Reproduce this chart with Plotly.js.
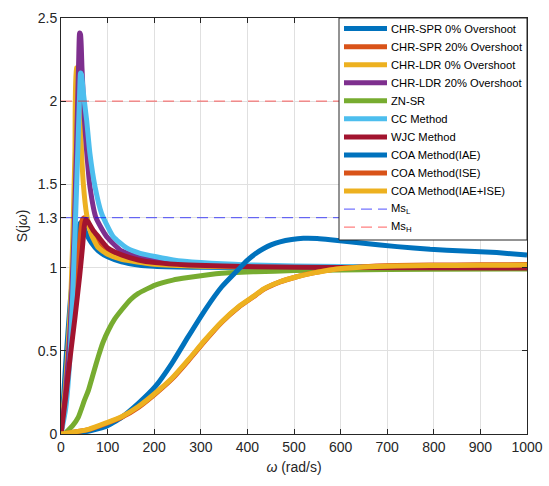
<!DOCTYPE html>
<html>
<head>
<meta charset="utf-8">
<script src="https://cdn.plot.ly/plotly-3.0.1.min.js"></script>
<style>html,body{margin:0;padding:0;background:#fff;}#chart{width:549px;height:486px;}</style>
</head>
<body>
<div id="chart"></div>
<script>
// ---- data ----
const seriesNames = [
  "CHR-SPR 0% Overshoot", "CHR-SPR 20% Overshoot", "CHR-LDR 0% Overshoot",
  "CHR-LDR 20% Overshoot", "ZN-SR", "CC Method", "WJC Method",
  "COA Method(IAE)", "COA Method(ISE)", "COA Method(IAE+ISE)"
];
const seriesColors = ["#0072BD","#D95319","#EDB120","#7E2F8E","#77AC30","#4DBEEE","#A2142F","#0072BD","#D95319","#EDB120"];

const chrSpr0_w = [0, 5, 10, 20, 30, 38, 42, 46, 55, 65, 80, 100, 130, 166, 200, 300, 500, 1000];
const chrSpr0_S = [0, 0.2, 0.42, 0.8, 1.08, 1.24, 1.27, 1.26, 1.2, 1.15, 1.1, 1.065, 1.035, 1.016, 1.008, 1.002, 1.0, 1.0];

const chrSpr20_w = [0, 10, 20, 30, 40, 46, 50, 55, 65, 80, 100, 130, 166, 200, 273, 400, 600, 1000];
const chrSpr20_S = [0, 0.25, 0.55, 0.85, 1.15, 1.29, 1.3, 1.28, 1.22, 1.16, 1.11, 1.07, 1.045, 1.03, 1.016, 1.006, 1.002, 1.0];

const chrLdr0_w = [0, 10, 20, 25, 30, 33, 36, 40, 44, 48, 55, 65, 80, 100, 130, 200, 300, 500, 1000];
const chrLdr0_S = [0, 0.3, 0.75, 1.15, 1.7, 2.2, 2.2, 2.0, 1.7, 1.5, 1.32, 1.2, 1.12, 1.08, 1.05, 1.02, 1.008, 1.002, 1.0];

const chrLdr20_w = [0, 10, 20, 28, 34, 38, 40, 42, 45, 50, 55, 62, 75, 98, 130, 170, 200, 300, 500, 1000];
const chrLdr20_S = [0, 0.25, 0.65, 1.2, 1.8, 2.25, 2.41, 2.4, 2.2, 1.9, 1.7, 1.49, 1.3, 1.186, 1.1, 1.06, 1.045, 1.02, 1.006, 1.0];

const znSr_w = [0, 8, 16, 25, 37, 50, 59, 70, 80, 90, 102, 115, 130, 150, 166, 202, 240, 273, 345, 417, 500, 600, 800, 1000];
const znSr_S = [0, 0.003, 0.024, 0.05, 0.1, 0.2, 0.264, 0.37, 0.465, 0.55, 0.625, 0.69, 0.745, 0.81, 0.845, 0.895, 0.925, 0.94, 0.966, 0.975, 0.982, 0.986, 0.99, 0.992];

const cc_w = [0, 10, 20, 30, 36, 40, 42, 44, 48, 55, 62, 73, 87, 112, 140, 170, 241, 300, 400, 600, 1000];
const cc_S = [0, 0.15, 0.5, 1.2, 1.7, 2.05, 2.17, 2.16, 2.05, 1.887, 1.687, 1.486, 1.326, 1.186, 1.12, 1.086, 1.046, 1.03, 1.016, 1.006, 1.0];

const wjc_w = [0, 10, 20, 30, 40, 46, 50, 53, 58, 70, 80, 101, 130, 166, 202, 273, 417, 600, 1000];
const wjc_S = [0, 0.22, 0.47, 0.7, 0.95, 1.12, 1.25, 1.29, 1.275, 1.22, 1.186, 1.116, 1.076, 1.046, 1.03, 1.016, 1.005, 1.0, 0.997];

const coaIae_w = [0, 50, 95, 130, 166, 202, 238, 273, 309, 345, 381, 399, 417, 434, 452, 470, 495, 520, 550, 578, 649, 721, 792, 864, 935, 1000];
const coaIae_S = [0, 0.012, 0.044, 0.1, 0.184, 0.284, 0.425, 0.585, 0.745, 0.885, 0.99, 1.042, 1.083, 1.113, 1.138, 1.155, 1.169, 1.176, 1.175, 1.168, 1.146, 1.126, 1.11, 1.1, 1.09, 1.076];

const coaIse_w = [0, 59, 100, 130, 166, 202, 238, 273, 309, 345, 381, 417, 434, 470, 506, 542, 578, 649, 720, 792, 900, 1000];
const coaIse_S = [0, 0.026, 0.066, 0.1, 0.16, 0.24, 0.33, 0.44, 0.56, 0.672, 0.762, 0.833, 0.868, 0.914, 0.945, 0.968, 0.987, 1.005, 1.012, 1.015, 1.017, 1.018];

const coaIaeIse_w = [0, 59, 100, 130, 166, 202, 238, 273, 309, 345, 381, 417, 434, 470, 506, 542, 578, 649, 720, 792, 900, 1000];
const coaIaeIse_S = [0, 0.028, 0.07, 0.104, 0.165, 0.245, 0.335, 0.445, 0.565, 0.675, 0.765, 0.835, 0.87, 0.915, 0.945, 0.968, 0.986, 1.003, 1.01, 1.012, 1.014, 1.015];

const msLevels = [1.3, 2.0];
const msNames = ["Ms<sub>L</sub>", "Ms<sub>H</sub>"];
const msColors = ["rgba(0,0,255,0.55)", "rgba(255,0,0,0.5)"];
const wRange = [0, 1000];

const xTicks = [0, 100, 200, 300, 400, 500, 600, 700, 800, 900, 1000];
const yTicks = [0, 0.5, 1, 1.3, 1.5, 2, 2.5];
const yTickText = ["0", "0.5", "1", "1.3", "1.5", "2", "2.5"];

// ---- traces ----
const xs = [chrSpr0_w, chrSpr20_w, chrLdr0_w, chrLdr20_w, znSr_w, cc_w, wjc_w, coaIae_w, coaIse_w, coaIaeIse_w];
const ys = [chrSpr0_S, chrSpr20_S, chrLdr0_S, chrLdr20_S, znSr_S, cc_S, wjc_S, coaIae_S, coaIse_S, coaIaeIse_S];

const traces = seriesNames.map((n, i) => ({
  type: "scatter", mode: "lines", name: n, x: xs[i], y: ys[i],
  line: {color: seriesColors[i], width: 5, shape: "spline", smoothing: 0.5},
  hoverinfo: "skip"
}));
msLevels.forEach((lv, i) => {
  traces.push({
    type: "scatter", mode: "lines", name: msNames[i],
    x: wRange, y: [lv, lv],
    line: {color: msColors[i], width: 1.3, dash: "11px,6px"},
    hoverinfo: "skip"
  });
});

// ---- compact legend box (MATLAB-style), built from the same names/colours ----
const W = 549, H = 486, mL = 61, mR = 22, mT = 18, mB = 52;
const pw = W - mL - mR, ph = H - mT - mB;
const px2x = p => (p - mL) / pw;
const px2y = p => 1 - (p - mT) / ph;

const legNames = seriesNames.concat(msNames);
const legColors = seriesColors.concat(msColors);
const shapes = [{
  type: "rect", xref: "paper", yref: "paper", layer: "above",
  x0: px2x(339), x1: 1, y0: px2y(240), y1: 1,
  fillcolor: "#ffffff", line: {color: "#262626", width: 1}
}];
const annotations = [];
legNames.forEach((n, i) => {
  const yc = 28.6 + i * 18.05;
  const isMs = i >= seriesNames.length;
  shapes.push({
    type: "line", xref: "paper", yref: "paper", layer: "above",
    x0: px2x(344), x1: px2x(387), y0: px2y(yc), y1: px2y(yc),
    line: {color: legColors[i], width: isMs ? 1.3 : 5, dash: isMs ? "11px,6px" : "solid"}
  });
  annotations.push({
    xref: "paper", yref: "paper", x: px2x(388.5), y: px2y(yc),
    xanchor: "left", yanchor: "middle", showarrow: false, text: n,
    font: {family: "Liberation Sans, Arial, sans-serif", size: 11.2, color: "#000"}
  });
});

const axisFont = {family: "Liberation Sans, Arial, sans-serif", size: 14, color: "#262626"};
const layout = {
  width: W, height: H,
  margin: {l: mL, r: mR, t: mT, b: mB},
  paper_bgcolor: "#fff", plot_bgcolor: "#fff",
  showlegend: false,
  font: axisFont,
  shapes: shapes,
  annotations: annotations,
  xaxis: {
    range: [0, 1000], tickvals: xTicks, ticktext: xTicks.map(String),
    showgrid: true, gridcolor: "#e0e0e0", gridwidth: 1,
    zeroline: false, showline: true, linecolor: "#262626", linewidth: 1,
    mirror: "ticks", ticks: "inside", ticklen: 5, tickcolor: "#262626",
    tickfont: axisFont,
    title: {text: "<i>ω</i> (rad/s)", font: axisFont, standoff: 8}
  },
  yaxis: {
    range: [0, 2.5], tickvals: yTicks, ticktext: yTickText,
    showgrid: true, gridcolor: "#e0e0e0", gridwidth: 1,
    zeroline: false, showline: true, linecolor: "#262626", linewidth: 1,
    mirror: "ticks", ticks: "inside", ticklen: 5, tickcolor: "#262626",
    tickfont: axisFont,
    title: {text: "S(j<i>ω</i>)", font: axisFont, standoff: 6}
  }
};

Plotly.newPlot("chart", traces, layout, {displayModeBar: false, staticPlot: true});
</script>
</body>
</html>
